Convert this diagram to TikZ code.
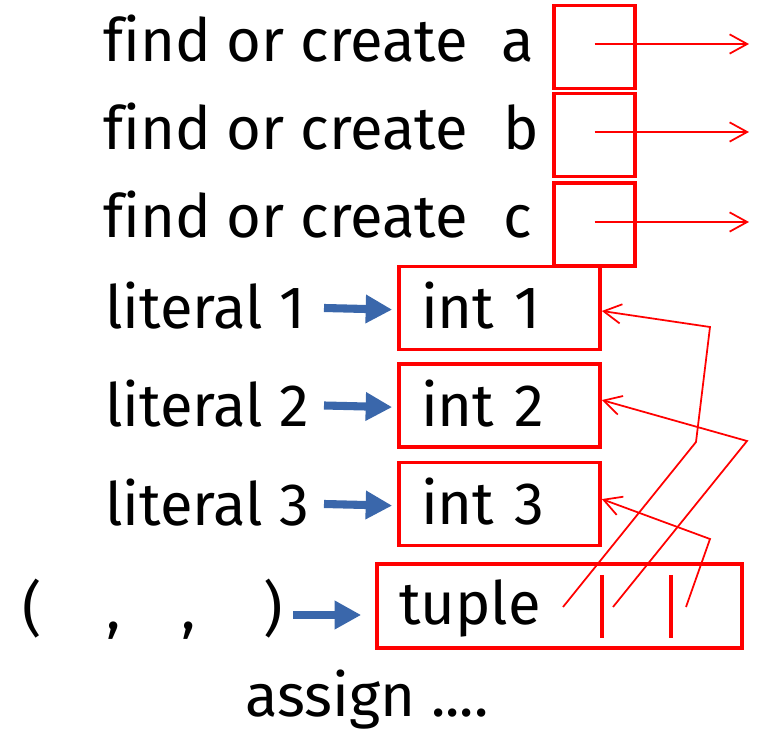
\documentclass[tikz,border=0pt]{standalone}
\usepackage{fontspec}
\setmainfont[Ligatures=NoCommon]{Fira Sans}
\usetikzlibrary{arrows.meta}
\definecolor{boxred}{RGB}{255,0,0}
\definecolor{litblue}{RGB}{58,103,171}
\begin{document}
\begin{tikzpicture}[x=0.02cm,y=-0.02cm,
    every node/.style={font=\fontsize{34}{40}\selectfont,inner sep=0pt},
    txt/.style={anchor=base west},
    cell/.style={draw=boxred,line width=2.1pt,minimum width=1.62cm,minimum height=1.66cm},
    obj/.style={draw=boxred,line width=2.1pt,minimum height=1.66cm,inner xsep=0.44cm,align=left,
      text height=0.9cm,text depth=0.06cm},
    ptr/.style={draw=boxred,line width=1pt,-{Straight Barb[length=10pt,width=11pt]}},
    lit/.style={draw=litblue,line width=4.6pt,-{Triangle[length=0.53cm,width=0.54cm]}}]
  \useasboundingbox (0,0) rectangle (761,732);

  % Nodes
  \node[txt] (fa) at (103,62) {find or create};
  \node[txt] (fb) at (103,150) {find or create};
  \node[txt] (fc) at (103,238) {find or create};
  \node[txt] (na) at (501,62) {a};
  \node[txt] (nb) at (503,150) {b};
  \node[txt] (nc) at (503,238) {c};
  \node[cell] (va) at (594.5,47) {};
  \node[cell] (vb) at (594.5,135) {};
  \node[cell] (vc) at (594.5,224.5) {};

  \node[txt] (l1) at (105,329) {literal 1};
  \node[txt] (l2) at (105,427) {literal 2};
  \node[txt] (l3) at (105,526) {literal 3};
  \node[obj,text width=3.14cm] (int1) at (499.5,308) {int 1};
  \node[obj,text width=3.14cm] (int2) at (499.5,405.5) {int 2};
  \node[obj,text width=3.14cm] (int3) at (499.5,504) {int 3};

  \node[txt] (tp) at (22,630) {(\hspace{1.3cm},\hspace{1.22cm},\hspace{1.34cm})};
  \node[obj,text width=6.42cm,minimum height=1.68cm,text height=0.82cm] (tup) at (559.5,606) {tuple};
  \node[txt] (asg) at (245,717) {assign ....};

  % Free ends and slots
  \coordinate (ra) at (749,44);
  \coordinate (rb) at (749,132);
  \coordinate (rc) at (749,222);
  \coordinate (lt) at (324,0);
  \coordinate (tt) at (293,615);
  \coordinate (s1) at (563,607);
  \coordinate (s2) at (613,607);
  \coordinate (s3) at (686,607);

  % Arrows: variables
  \draw[ptr] (va.center |- ra) -- (ra);
  \draw[ptr] (vb.center |- rb) -- (rb);
  \draw[ptr] (vc.center |- rc) -- (rc);

  % Arrows: literals
  \draw[lit,shorten >=0.1cm] (lt |- int1.west) -- ([yshift=-1pt]int1.west);
  \draw[lit,shorten >=0.1cm] (lt |- int2.west) -- ([yshift=-1pt]int2.west);
  \draw[lit,shorten >=0.1cm] (lt |- int3.west) -- ([yshift=-1pt]int3.west);
  \draw[lit,shorten >=0.28cm] (tt) -- (tt -| tup.west);

  % Tuple slots
  \draw[boxred,line width=2.3pt] (602,575) -- (602,638);
  \draw[boxred,line width=2.3pt] (671,575) -- (671,638);

  % Slot pointers
  \draw[ptr] (s1) -- (696,442) -- (710,327) -- ([yshift=-1.7pt]int1.east);
  \draw[ptr] (s2) -- (747,441) -- ([yshift=3.1pt]int2.east);
  \draw[ptr] (s3) -- (710,539) -- ([yshift=2.8pt]int3.east);

\end{tikzpicture}
\end{document}
